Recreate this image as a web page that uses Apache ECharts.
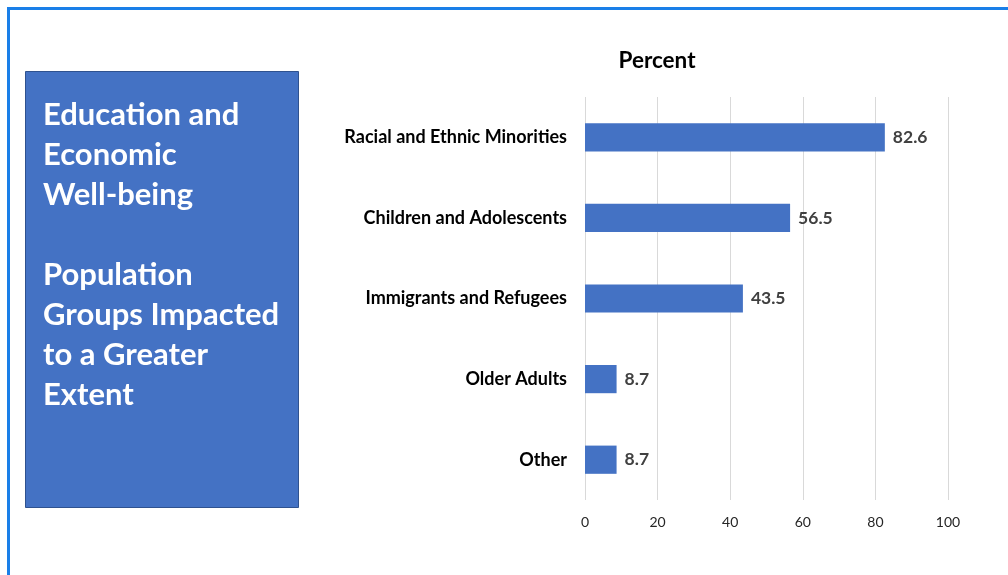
<!DOCTYPE html>
<html><head><meta charset="utf-8">
<script src="https://cdn.jsdelivr.net/npm/echarts@6/dist/echarts.min.js"></script>
<style>html,body{margin:0;padding:0;background:#fff;}#c{width:1008px;height:575px;}</style>
</head><body><div id="c"></div>
<script>
const categories = ["Racial and Ethnic Minorities","Children and Adolescents","Immigrants and Refugees","Older Adults","Other"];
const values = [82.6, 56.5, 43.5, 8.7, 8.7];
const xTicks = [0, 20, 40, 60, 80, 100];
const chartTitle = "Percent";
const boxLines = ["Education and","Economic","Well-being","","Population","Groups Impacted","to a Greater","Extent"];

const FONT = "Lato, 'Open Sans', sans-serif";
const chart = echarts.init(document.getElementById('c'), null, {renderer:'canvas'});
chart.setOption({
  backgroundColor:'#ffffff',
  animation:false,
  grid:{left:585,right:60,top:97,bottom:75,containLabel:false},
  xAxis:{type:'value',min:xTicks[0],max:xTicks[xTicks.length-1],interval:20,
    axisLine:{show:false},axisTick:{show:false},
    splitLine:{show:true,lineStyle:{color:'#d9d9d9',width:1}},
    axisLabel:{fontFamily:FONT,fontSize:14,color:'#262626',margin:15}},
  yAxis:{type:'category',data:categories,inverse:true,
    axisLine:{show:false},axisTick:{show:false},splitLine:{show:false},
    axisLabel:{fontFamily:FONT,fontWeight:'bold',fontSize:18,color:'#000',margin:18}},
  series:[{type:'bar',data:values,barWidth:'35%',
    itemStyle:{color:'#4472C4'},
    label:{show:true,position:'right',distance:8,fontFamily:FONT,fontWeight:'bold',fontSize:17.5,color:'#404040',
      formatter:p=>p.value.toFixed(1)}}],
  graphic:[
    {type:'rect',shape:{x:8.5,y:8.5,width:1010,height:580},style:{fill:'none',stroke:'#1a7fe8',lineWidth:3},silent:true,z:-1},
    {type:'rect',shape:{x:25.5,y:71.5,width:273,height:436},style:{fill:'#4472C4',stroke:'#2F528F',lineWidth:1},silent:true},
    {type:'text',left:43,top:95,style:{text:boxLines.join('\n'),fill:'#fff',font:"bold 31px "+FONT,lineHeight:40}},
    {type:'text',x:657,y:61,style:{text:chartTitle,fill:'#000',font:"bold 22.5px "+FONT,textAlign:'center',textVerticalAlign:'middle'}}
  ]
});
</script></body></html>
